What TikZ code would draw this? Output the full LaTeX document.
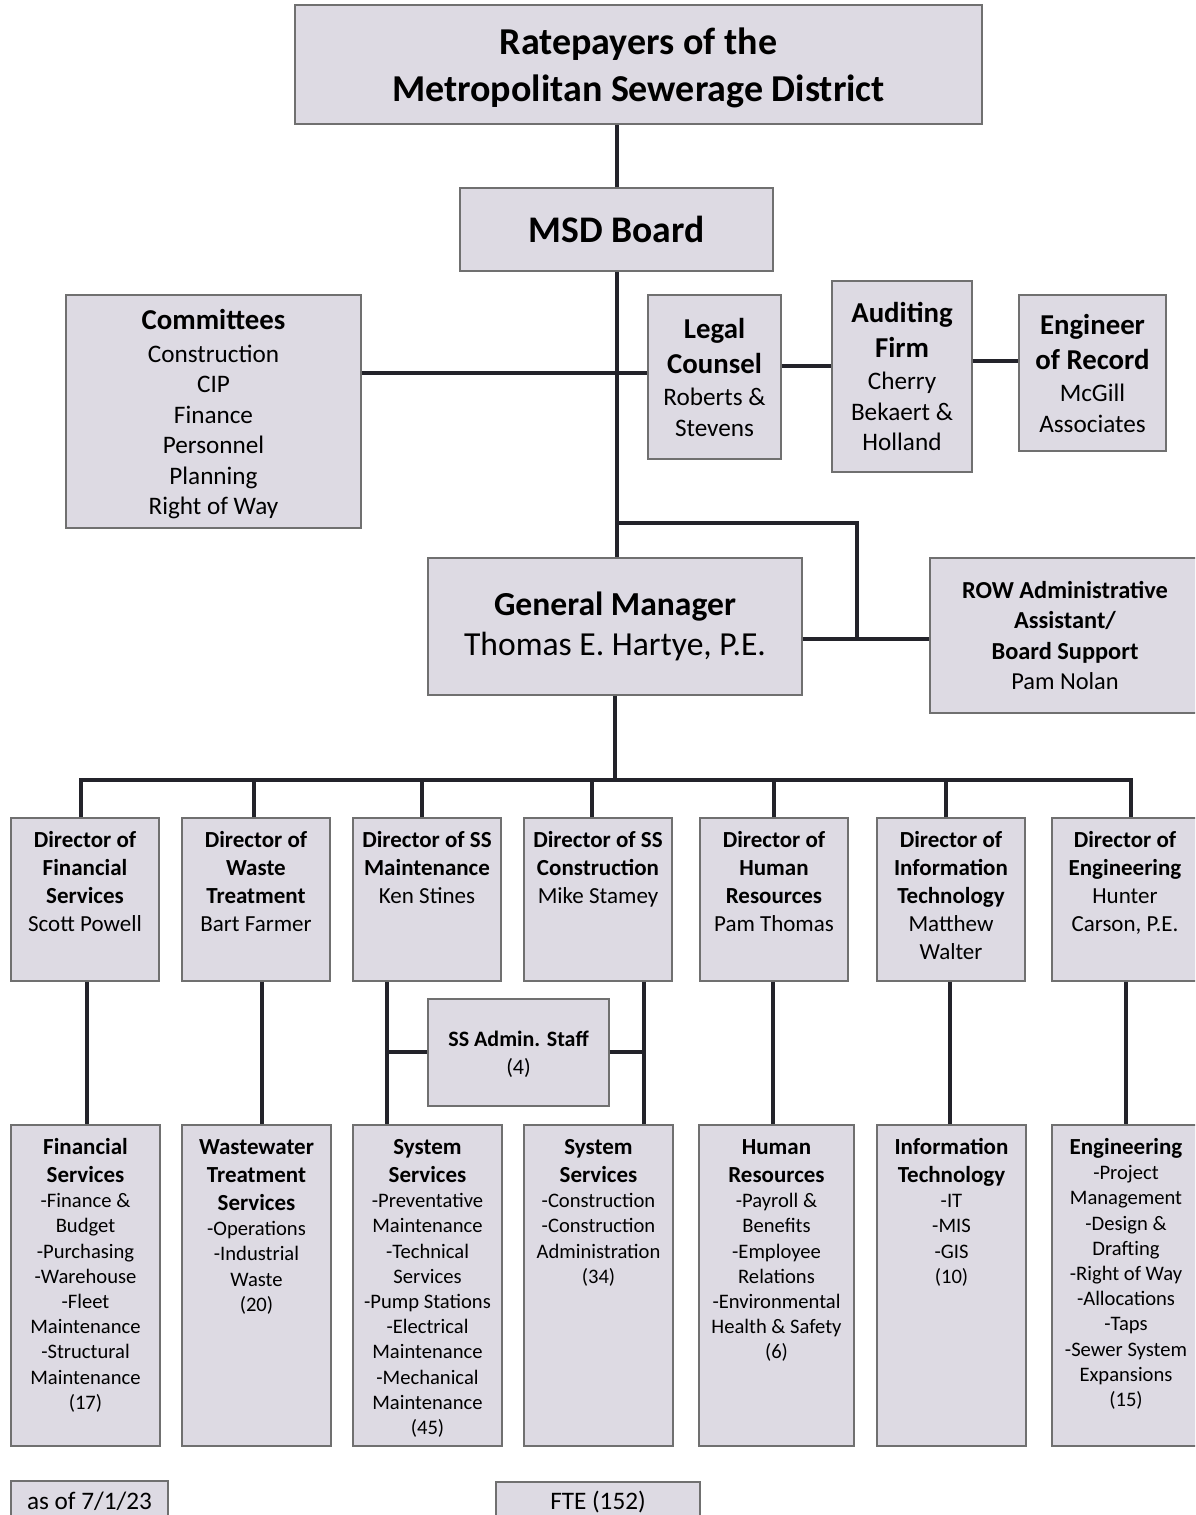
\documentclass[tikz,border=0pt]{standalone}
\usepackage{fontspec}
\setmainfont{Carlito}
\usepackage{tikz}
\usetikzlibrary{positioning}
\definecolor{boxfill}{RGB}{221,218,227}
\definecolor{boxline}{RGB}{112,112,112}
\definecolor{linkcol}{RGB}{35,35,42}
\newcommand{\midtext}[3]{\parbox[c][#1][c]{#2}{\centering #3}}
\newcommand{\toptext}[4]{\parbox[c][#1][t]{#2}{\centering\rule{0pt}{#3}#4}}
\tikzstyle{box} = [draw=boxline, fill=boxfill, line width=0.7pt, inner sep=0pt]
\tikzstyle{link} = [draw=linkcol, line width=2pt]
\tikzstyle{dirfont} = [font=\fontsize{11.5}{14}\selectfont]
\tikzstyle{unitfont} = [font=\fontsize{10.3}{12.6}\selectfont]
\tikzstyle{headfont} = [font=\fontsize{12.6}{15.25}\selectfont]

\begin{document}
\begin{tikzpicture}[x=0.5pt, y=-0.5pt]
	\useasboundingbox (0, 0) rectangle (1195, 1515);
	\clip (0, 0) rectangle (1195, 1515);

	% top of the chart
	\node (Rate) [box] at (638.5, 64.5) {\midtext{59.5pt}{343.5pt}{\fontsize{19}{23.5}\selectfont\bfseries\vspace{3pt}Ratepayers of the\\ Metropolitan Sewerage District}};
	\node (Board) [box] at (616.5, 229.5) {\midtext{41.5pt}{156.5pt}{\fontsize{18.8}{22}\selectfont\bfseries MSD Board}};
	\draw [link] (Board.north) -- (Board.north |- Rate.south);

	% board level
	\node (Comm) [box, headfont] at (213.5, 411.5) {\midtext{116.5pt}{147.5pt}{\vspace{3pt}{\fontsize{14.4}{17.5}\selectfont\bfseries Committees\par}\vspace{1pt}Construction\\ CIP\\ Finance\\ Personnel\\ Planning\\ Right of Way}};
	\node (Legal) [box, headfont] at (714.5, 377) {\midtext{82pt}{66.5pt}{{\fontsize{14.4}{17.5}\selectfont\bfseries Legal\\ Counsel\par}\vspace{1pt}Roberts \&\\ Stevens}};
	\node (Audit) [box, headfont] at (902, 376.5) {\midtext{95.5pt}{70pt}{{\fontsize{14.4}{17.5}\selectfont\bfseries Auditing\\ Firm\par}\vspace{1pt}Cherry\\ Bekaert \&\\ Holland}};
	\node (Record) [box, headfont] at (1092.5, 373) {\midtext{78pt}{73.5pt}{{\fontsize{14.4}{17.5}\selectfont\bfseries Engineer\\ of Record\par}\vspace{1pt}McGill\\ Associates}};

	\coordinate (CommJoin) at (616, 373);
	\coordinate (LegalJoin) at (806, 366);
	\coordinate (AuditJoin) at (995, 361);
	\draw [link] (Comm.east |- CommJoin) -- (Legal.west |- CommJoin);
	\draw [link] (Legal.east |- LegalJoin) -- (Audit.west |- LegalJoin);
	\draw [link] (Audit.east |- AuditJoin) -- (Record.west |- AuditJoin);

	% general manager
	\node (GM) [box] at (615, 626.5) {\midtext{68.5pt}{187pt}{\fontsize{16.8}{20}\selectfont{\bfseries General Manager}\\ Thomas E. Hartye, P.E.}};
	\node (ROW) [box] at (1065, 635.5) {\midtext{77.5pt}{135pt}{\fontsize{12.2}{15.25}\selectfont{\bfseries ROW Administrative\\ Assistant/\\ Board Support}\\ Pam Nolan}};
	\draw [link] (Board.south) -- (Board.south |- GM.north);

	\coordinate (RowSplit) at (616, 523);
	\coordinate (RowJoin) at (857, 639);
	\draw [link] (RowSplit) -| (RowJoin);
	\draw [link] (GM.east |- RowJoin) -- (ROW.west |- RowJoin);

	% directors
	\node (DirFin) [box, dirfont] at (85, 899.5) {\toptext{81.5pt}{74pt}{14.7pt}{{\bfseries Director of\\ Financial\\ Services}\\ Scott Powell}};
	\node (DirWaste) [box, dirfont] at (256, 899.5) {\toptext{81.5pt}{74pt}{14.7pt}{{\bfseries Director of\\ Waste\\ Treatment}\\ Bart Farmer}};
	\node (DirMaint) [box, dirfont] at (427, 899.5) {\toptext{81.5pt}{74pt}{14.7pt}{{\bfseries Director of SS\\ Maintenance}\\ Ken Stines}};
	\node (DirCons) [box, dirfont] at (598, 899.5) {\toptext{81.5pt}{74pt}{14.7pt}{{\bfseries Director of SS\\ Construction}\\ Mike Stamey}};
	\node (DirHR) [box, dirfont] at (774, 899.5) {\toptext{81.5pt}{74pt}{14.7pt}{{\bfseries Director of\\ Human\\ Resources}\\ Pam Thomas}};
	\node (DirIT) [box, dirfont] at (951, 899.5) {\toptext{81.5pt}{74pt}{14.7pt}{{\bfseries Director of\\ Information\\ Technology}\\ Matthew\\ Walter}};
	\node (DirEng) [box, dirfont] at (1125, 899.5) {\toptext{81.5pt}{73pt}{14.7pt}{{\bfseries Director of\\ Engineering}\\ Hunter\\ Carson, P.E.}};

	\coordinate (Bus) at (613, 780);
	\draw [link] (GM.south) -- (GM.south |- Bus);
	\draw [link] ([xshift=-2pt]DirFin.north) |- (Bus) -| ([xshift=3pt]DirEng.north);
	\foreach \d/\dx in {DirWaste/-1, DirMaint/-2.5, DirCons/-3, DirHR/0, DirIT/-2.5}
		\draw [link] ([xshift=\dx pt]\d.north) -- ++(0, -38);

	% staff
	\node (Admin) [box, font=\fontsize{11}{14}\selectfont] at (518.5, 1052.5) {\midtext{53.5pt}{90.5pt}{\vspace{2pt}{\bfseries SS Admin. Staff}\\ (4)}};

	% units
	\node (FinSvc) [box, unitfont] at (85.5, 1285.5) {\toptext{160.5pt}{74.5pt}{14.7pt}{{\fontsize{11.5}{14}\selectfont\bfseries Financial\\ Services\par}-Finance \&\\ Budget\\ -Purchasing\\ -Warehouse\\ -Fleet\\ Maintenance\\ -Structural\\ Maintenance\\ (17)}};
	\node (WasteSvc) [box, unitfont] at (256.5, 1285.5) {\toptext{160.5pt}{74.5pt}{14.7pt}{{\fontsize{11.5}{14}\selectfont\bfseries Wastewater\\ Treatment\\ Services\par}-Operations\\ -Industrial\\ Waste\\ (20)}};
	\node (SysMaint) [box, unitfont] at (427.5, 1285.5) {\toptext{160.5pt}{74.5pt}{14.7pt}{{\fontsize{11.5}{14}\selectfont\bfseries System\\ Services\par}-Preventative\\ Maintenance\\ -Technical\\ Services\\ -Pump Stations\\ -Electrical\\ Maintenance\\ -Mechanical\\ Maintenance\\ (45)}};
	\node (SysCons) [box, unitfont] at (598.5, 1285.5) {\toptext{160.5pt}{74.5pt}{14.7pt}{{\fontsize{11.5}{14}\selectfont\bfseries System\\ Services\par}-Construction\\ -Construction\\ Administration\\ (34)}};
	\node (HRSvc) [box, unitfont] at (776.5, 1285.5) {\toptext{160.5pt}{77.5pt}{14.7pt}{{\fontsize{11.5}{14}\selectfont\bfseries Human\\ Resources\par}-Payroll \&\\ Benefits\\ -Employee\\ Relations\\ -Environmental\\ Health \& Safety\\ (6)}};
	\node (ITSvc) [box, unitfont] at (951.5, 1285.5) {\toptext{160.5pt}{74.5pt}{14.7pt}{{\fontsize{11.5}{14}\selectfont\bfseries Information\\ Technology\par}-IT\\ -MIS\\ -GIS\\ (10)}};
	\node (EngSvc) [box, unitfont] at (1126, 1285.5) {\toptext{160.5pt}{74pt}{14.7pt}{{\fontsize{11.5}{14}\selectfont\bfseries Engineering\par}-Project\\ Management\\ -Design \&\\ Drafting\\ -Right of Way\\ -Allocations\\ -Taps\\ -Sewer System\\ Expansions\\ (15)}};

	\foreach \top/\bot/\dx in {DirFin/FinSvc/1, DirWaste/WasteSvc/3, DirHR/HRSvc/-0.5, DirIT/ITSvc/-0.5, DirEng/EngSvc/0.5}
		\draw [link] ([xshift=\dx pt]\top.south) -- ([xshift=\dx pt]\top.south |- \bot.north);

	% system services share the admin staff
	\coordinate (SSLeft) at (387, 1052);
	\coordinate (SSRight) at (644, 1052);
	\draw [link] (DirMaint.south -| SSLeft) -- (SysMaint.north -| SSLeft);
	\draw [link] (DirCons.south -| SSRight) -- (SysCons.north -| SSRight);
	\draw [link] (SSLeft) -- (Admin.west |- SSLeft);
	\draw [link] (Admin.east |- SSRight) -- (SSRight);

	% footer
	\node (Date) [box, headfont] at (89.5, 1501) {\midtext{20pt}{78.5pt}{as of 7/1/23}};
	\node (FTE) [box, headfont] at (598, 1502) {\midtext{20pt}{102pt}{FTE (152)}};
\end{tikzpicture}
\end{document}
